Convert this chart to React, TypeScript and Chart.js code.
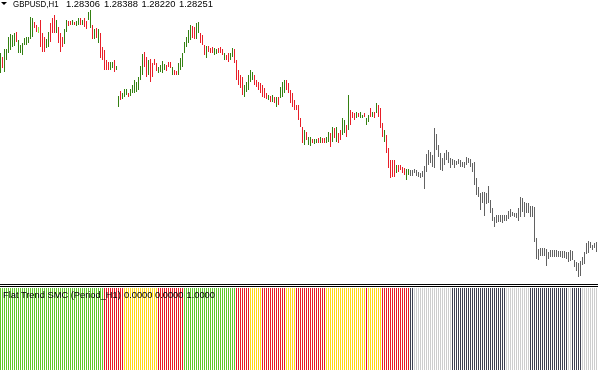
import React, { useEffect, useRef } from "react";
import { Chart, registerables } from "chart.js";

Chart.register(...registerables);

// ---- Header / label texts ----
const headerSymbol = "GBPUSD,H1";
const headerValues = ["1.28306", "1.28388", "1.28220", "1.28251"];
const indicatorName = "Flat Trend SMC (Period_H1)";
const indicatorValues = ["0.0000", "0.0000", "1.0000"];

// ---- GBPUSD H1 bars (high / low) ----
const highs = [
  1.3020, 1.3016, 1.3024, 1.3024, 1.3036, 1.3039, 1.3038, 1.3040, 1.3041, 1.3033,
  1.3028, 1.3030, 1.3035, 1.3036, 1.3036, 1.3056, 1.3055, 1.3051, 1.3048, 1.3046,
  1.3053, 1.3040, 1.3036, 1.3034, 1.3041, 1.3050, 1.3055, 1.3058, 1.3053, 1.3046,
  1.3040, 1.3036, 1.3044, 1.3053, 1.3052, 1.3052, 1.3053, 1.3051, 1.3052, 1.3055,
  1.3055, 1.3053, 1.3055, 1.3052, 1.3061, 1.3063, 1.3048, 1.3044, 1.3045, 1.3044,
  1.3040, 1.3026, 1.3023, 1.3013, 1.3011, 1.3011, 1.3011, 1.3013, 1.3007, 1.2977,
  1.2982, 1.2980, 1.2984, 1.2984, 1.2980, 1.2984, 1.2988, 1.2993, 1.2991, 1.2996,
  1.3007, 1.3019, 1.3021, 1.3016, 1.3013, 1.3014, 1.3010, 1.3014, 1.3010, 1.3006,
  1.3008, 1.3012, 1.3009, 1.3008, 1.3011, 1.3011, 1.3006, 1.3003, 1.3002, 1.3010,
  1.3015, 1.3020, 1.3031, 1.3036, 1.3043, 1.3048, 1.3047, 1.3046, 1.3050, 1.3051,
  1.3040, 1.3038, 1.3028, 1.3027, 1.3027, 1.3025, 1.3026, 1.3025, 1.3024, 1.3025,
  1.3026, 1.3024, 1.3020, 1.3018, 1.3020, 1.3020, 1.3025, 1.3024, 1.3013, 1.3003,
  1.2998, 1.2996, 1.2988, 1.2991, 1.2998, 1.3003, 1.3001, 1.2998, 1.2993, 1.2991,
  1.2990, 1.2988, 1.2985, 1.2980, 1.2978, 1.2977, 1.2978, 1.2976, 1.2976, 1.2976,
  1.2986, 1.2991, 1.2993, 1.2993, 1.2990, 1.2983, 1.2980, 1.2973, 1.2968, 1.2968,
  1.2955, 1.2946, 1.2943, 1.2941, 1.2936, 1.2936, 1.2934, 1.2934, 1.2934, 1.2935,
  1.2936, 1.2935, 1.2935, 1.2936, 1.2941, 1.2940, 1.2946, 1.2945, 1.2946, 1.2940,
  1.2943, 1.2955, 1.2953, 1.2948, 1.2978, 1.2963, 1.2961, 1.2960, 1.2961, 1.2960,
  1.2961, 1.2958, 1.2960, 1.2955, 1.2958, 1.2965, 1.2961, 1.2961, 1.2970, 1.2968,
  1.2965, 1.2950, 1.2943, 1.2938, 1.2925, 1.2913, 1.2913, 1.2913, 1.2908, 1.2908,
  1.2908, 1.2906, 1.2905, 1.2904, 1.2904, 1.2903, 1.2903, 1.2904, 1.2903, 1.2901,
  1.2900, 1.2902, 1.2907, 1.2919, 1.2923, 1.2921, 1.2918, 1.2945, 1.2939, 1.2928,
  1.2920, 1.2915, 1.2920, 1.2923, 1.2921, 1.2915, 1.2914, 1.2913, 1.2912, 1.2914,
  1.2913, 1.2911, 1.2911, 1.2916, 1.2915, 1.2914, 1.2910, 1.2911, 1.2895, 1.2886,
  1.2880, 1.2881, 1.2881, 1.2880, 1.2887, 1.2873, 1.2865, 1.2856, 1.2858, 1.2858,
  1.2858, 1.2858, 1.2858, 1.2858, 1.2862, 1.2864, 1.2861, 1.2860, 1.2860, 1.2865,
  1.2876, 1.2875, 1.2871, 1.2870, 1.2870, 1.2867, 1.2867, 1.2866, 1.2835, 1.2824,
  1.2825, 1.2825, 1.2825, 1.2824, 1.2821, 1.2823, 1.2823, 1.2823, 1.2823, 1.2822,
  1.2822, 1.2822, 1.2822, 1.2821, 1.2821, 1.2823, 1.2822, 1.2813, 1.2811, 1.2810,
  1.2812, 1.2816, 1.2821, 1.2830, 1.2832, 1.2831, 1.2828, 1.2830, 1.2831,
];

const lows = [
  1.3000, 1.3005, 1.3001, 1.3013, 1.3020, 1.3023, 1.3026, 1.3027, 1.3031, 1.3020,
  1.3020, 1.3018, 1.3028, 1.3028, 1.3030, 1.3034, 1.3036, 1.3045, 1.3041, 1.3040,
  1.3026, 1.3021, 1.3021, 1.3025, 1.3026, 1.3031, 1.3040, 1.3040, 1.3040, 1.3030,
  1.3021, 1.3026, 1.3029, 1.3041, 1.3047, 1.3048, 1.3048, 1.3048, 1.3047, 1.3048,
  1.3048, 1.3048, 1.3046, 1.3044, 1.3053, 1.3045, 1.3034, 1.3034, 1.3035, 1.3030,
  1.3015, 1.3013, 1.3003, 1.3003, 1.3003, 1.3003, 1.3005, 1.3001, 1.3003, 1.2966,
  1.2973, 1.2974, 1.2976, 1.2978, 1.2976, 1.2977, 1.2980, 1.2980, 1.2981, 1.2983,
  1.2993, 1.2998, 1.3006, 1.2996, 1.2998, 1.2991, 1.2996, 1.3008, 1.3002, 1.3000,
  1.3001, 1.3000, 1.3003, 1.3002, 1.3006, 1.3005, 1.2998, 1.2998, 1.2998, 1.2998,
  1.3003, 1.3006, 1.3020, 1.3026, 1.3030, 1.3033, 1.3035, 1.3034, 1.3034, 1.3040,
  1.3030, 1.3028, 1.3018, 1.3015, 1.3021, 1.3020, 1.3020, 1.3018, 1.3019, 1.3020,
  1.3020, 1.3018, 1.3013, 1.3013, 1.3011, 1.3013, 1.3016, 1.3010, 1.2993, 1.2988,
  1.2985, 1.2978, 1.2976, 1.2981, 1.2983, 1.2991, 1.2993, 1.2988, 1.2986, 1.2983,
  1.2980, 1.2976, 1.2975, 1.2974, 1.2973, 1.2971, 1.2971, 1.2970, 1.2966, 1.2968,
  1.2975, 1.2976, 1.2980, 1.2983, 1.2980, 1.2970, 1.2966, 1.2963, 1.2963, 1.2953,
  1.2946, 1.2930, 1.2928, 1.2933, 1.2928, 1.2927, 1.2930, 1.2929, 1.2930, 1.2930,
  1.2930, 1.2930, 1.2930, 1.2930, 1.2931, 1.2926, 1.2931, 1.2935, 1.2931, 1.2930,
  1.2933, 1.2938, 1.2940, 1.2936, 1.2943, 1.2948, 1.2955, 1.2953, 1.2955, 1.2956,
  1.2955, 1.2955, 1.2956, 1.2948, 1.2951, 1.2956, 1.2956, 1.2955, 1.2960, 1.2956,
  1.2945, 1.2936, 1.2931, 1.2920, 1.2905, 1.2895, 1.2896, 1.2896, 1.2900, 1.2901,
  1.2903, 1.2900, 1.2898, 1.2893, 1.2898, 1.2897, 1.2897, 1.2900, 1.2897, 1.2896,
  1.2895, 1.2896, 1.2884, 1.2901, 1.2908, 1.2910, 1.2906, 1.2905, 1.2923, 1.2916,
  1.2903, 1.2902, 1.2908, 1.2913, 1.2910, 1.2905, 1.2908, 1.2905, 1.2908, 1.2909,
  1.2906, 1.2906, 1.2905, 1.2908, 1.2910, 1.2906, 1.2901, 1.2888, 1.2878, 1.2876,
  1.2863, 1.2870, 1.2857, 1.2869, 1.2870, 1.2860, 1.2852, 1.2846, 1.2850, 1.2851,
  1.2851, 1.2850, 1.2852, 1.2852, 1.2854, 1.2856, 1.2857, 1.2856, 1.2855, 1.2852,
  1.2856, 1.2861, 1.2856, 1.2860, 1.2860, 1.2856, 1.2856, 1.2831, 1.2814, 1.2813,
  1.2817, 1.2817, 1.2817, 1.2807, 1.2814, 1.2816, 1.2816, 1.2816, 1.2816, 1.2816,
  1.2816, 1.2815, 1.2815, 1.2814, 1.2811, 1.2812, 1.2813, 1.2806, 1.2802, 1.2796,
  1.2797, 1.2808, 1.2809, 1.2819, 1.2820, 1.2825, 1.2823, 1.2825, 1.2821,
];

// Bar direction: G = up, R = down, L = highlighted up bar
const barDirection = [
  "GRGGGGGGRG", "GGGGGGGRRL", "RRRGGRRRGR", "RRGGRRGRGG", "RGRRGGRGRG",
  "RRRRRGGRGG", "RGGGRGGGGG", "GGRRGRRRRG", "GGGRRRGRRG", "GGGGGGRRGG",
  "RRRGRRRGGR", "RRGRRGGRRR", "RRGGGGGRRR", "RRRRGRGRGR", "GGGRRRRRRR",
  "RRGRGGRGGR", "GRRGGRGRGR", "RGGRGRRRGR", "GGRGGRGRGR", "RRGRRRRRGR",
  "RRRGGRGRRR", "RGGGGGRGRR", "RGGRRGRGRR", "GGRGGRRRRR", "RRGRRRRRGG",
  "RGGRGGRRRG", "GRRRRRRRRG", "RRRRGGGRGR", "RRGRGGRRRR", "GGGGGRRGR",
].join("");

// Flat Trend SMC state per bar: G = up trend, R = down trend, Y = flat
const trendState = [
  "GGGGGGGGGG", "GGGGGGGGGG", "GGGGGGGGGG", "GGGGGGGGGG", "GGGGGGGGGG",
  "GGRRRRRRRR", "RRYYYYYYYY", "YYYYYYYYYR", "RRRRRRRRRR", "RRGGGGGGGG",
  "GGGGGGGGGG", "GGGGGGGGRR", "RRRRRYYYYY", "YRRRRRRRRR", "RRRYYYYYRR",
  "RRRRRRRRRR", "RRRYYYYYYY", "YYYYYYYYYY", "YYYRYYYYYY", "YRRRRRRRRR",
  "RRRRRRRYYY", "YYYYYYYYYY", "YYYYYYRRRR", "RRRRRRRRRR", "RRRRRRRRRR",
  "RRRYYYYYYY", "YYYYYRRRRR", "RRRRRRRRRR", "RRRRYYRRRR", "RYYYYYYYY",
].join("");

const PRICE_MIN = 1.2790;
const PRICE_MAX = 1.3073;
const GRAY_FROM = 205;

const BAR_UP = "rgb(52,128,18)";
const BAR_DOWN = "rgb(232,30,40)";
const BAR_LIME = "rgb(140,226,60)";
const BAR_GRAY = "rgb(98,98,98)";
const TREND_UP = "rgb(96,200,40)";
const TREND_DOWN = "rgb(232,28,36)";
const TREND_FLAT = "rgb(255,216,20)";
const TREND_DOWN_GRAY = "rgb(62,64,80)";
const TREND_FLAT_GRAY = "rgb(205,205,205)";

const FONT = '"Liberation Sans", Arial, sans-serif';

function xScale(n: number) {
  return {
    type: "linear" as const,
    display: false,
    min: -0.25,
    max: n - 0.25,
    offset: false,
    grid: { display: false },
  };
}

export default function App() {
  const priceRef = useRef<HTMLCanvasElement>(null);
  const trendRef = useRef<HTMLCanvasElement>(null);

  useEffect(() => {
    document.body.style.margin = "0";
    const n = highs.length;

    const priceData = highs.map((h, i) => ({ x: i, y: [lows[i], h] }));
    const priceColors = highs.map((_, i) => {
      if (i >= GRAY_FROM) return BAR_GRAY;
      const d = barDirection[i];
      return d === "G" ? BAR_UP : d === "L" ? BAR_LIME : BAR_DOWN;
    });

    const priceChart = new Chart(priceRef.current as HTMLCanvasElement, {
      type: "bar",
      data: {
        datasets: [
          {
            data: priceData as any,
            backgroundColor: priceColors,
            barThickness: 1,
            borderWidth: 0,
            inflateAmount: 0,
            borderSkipped: false,
          } as any,
        ],
      },
      options: {
        animation: false,
        responsive: false,
        devicePixelRatio: 1,
        events: [],
        layout: { padding: 0 },
        plugins: { legend: { display: false }, tooltip: { enabled: false }, title: { display: false } },
        scales: {
          x: xScale(n),
          y: { type: "linear", display: false, min: PRICE_MIN, max: PRICE_MAX, grid: { display: false } },
        },
      } as any,
    });

    const states = trendState.split("");
    const trendData = states.map((_, i) => ({ x: i, y: [0, 1] }));
    const trendColors = states.map((s, i) => {
      const gray = i >= GRAY_FROM;
      if (s === "G") return TREND_UP;
      if (s === "R") return gray ? TREND_DOWN_GRAY : TREND_DOWN;
      return gray ? TREND_FLAT_GRAY : TREND_FLAT;
    });

    const trendChart = new Chart(trendRef.current as HTMLCanvasElement, {
      type: "bar",
      data: {
        datasets: [
          {
            data: trendData as any,
            backgroundColor: trendColors,
            barThickness: 1,
            borderWidth: 0,
            inflateAmount: 0,
            borderSkipped: false,
          } as any,
        ],
      },
      options: {
        animation: false,
        responsive: false,
        devicePixelRatio: 1,
        events: [],
        layout: { padding: 0 },
        plugins: { legend: { display: false }, tooltip: { enabled: false }, title: { display: false } },
        scales: {
          x: xScale(states.length),
          y: { type: "linear", display: false, min: 0, max: 1, grid: { display: false } },
        },
      } as any,
    });

    return () => {
      priceChart.destroy();
      trendChart.destroy();
    };
  }, []);

  const textBase: React.CSSProperties = {
    position: "absolute",
    fontFamily: FONT,
    lineHeight: "10px",
    color: "#000",
    whiteSpace: "nowrap",
  };
  const headerLefts = [66, 104, 141.5, 179];
  const valueLefts = [124, 155, 186.5];

  return (
    <div
      style={{
        position: "absolute",
        left: 0,
        top: 0,
        width: 598,
        height: 370,
        overflow: "hidden",
        background: "#fff",
      }}
    >
      <canvas
        ref={priceRef}
        width={598}
        height={283}
        style={{ position: "absolute", left: 0, top: 0, width: 598, height: 283, display: "block" }}
      />
      <div style={{ position: "absolute", left: 0, top: 284, width: 598, height: 1, background: "#000" }} />
      <div style={{ position: "absolute", left: 0, top: 286, width: 598, height: 1, background: "#000" }} />
      <canvas
        ref={trendRef}
        width={598}
        height={82}
        style={{ position: "absolute", left: 0, top: 288, width: 598, height: 82, display: "block" }}
      />

      <div
        style={{
          position: "absolute",
          left: 1,
          top: 2,
          width: 0,
          height: 0,
          borderLeft: "3px solid transparent",
          borderRight: "3px solid transparent",
          borderTop: "3px solid #000",
        }}
      />
      <span
        style={{
          ...textBase,
          left: 13,
          top: -1,
          fontSize: 9.4,
          transform: "scaleX(0.84)",
          transformOrigin: "left center",
          display: "inline-block",
        }}
      >
        {headerSymbol}
      </span>
      {headerValues.map((v, i) => (
        <span key={"h" + i} style={{ ...textBase, left: headerLefts[i], top: -1, fontSize: 9.4 }}>
          {v}
        </span>
      ))}

      <span style={{ ...textBase, left: 3, top: 290, fontSize: 9.3 }}>{indicatorName}</span>
      {indicatorValues.map((v, i) => (
        <span key={"v" + i} style={{ ...textBase, left: valueLefts[i], top: 290, fontSize: 9.3 }}>
          {v}
        </span>
      ))}
    </div>
  );
}
